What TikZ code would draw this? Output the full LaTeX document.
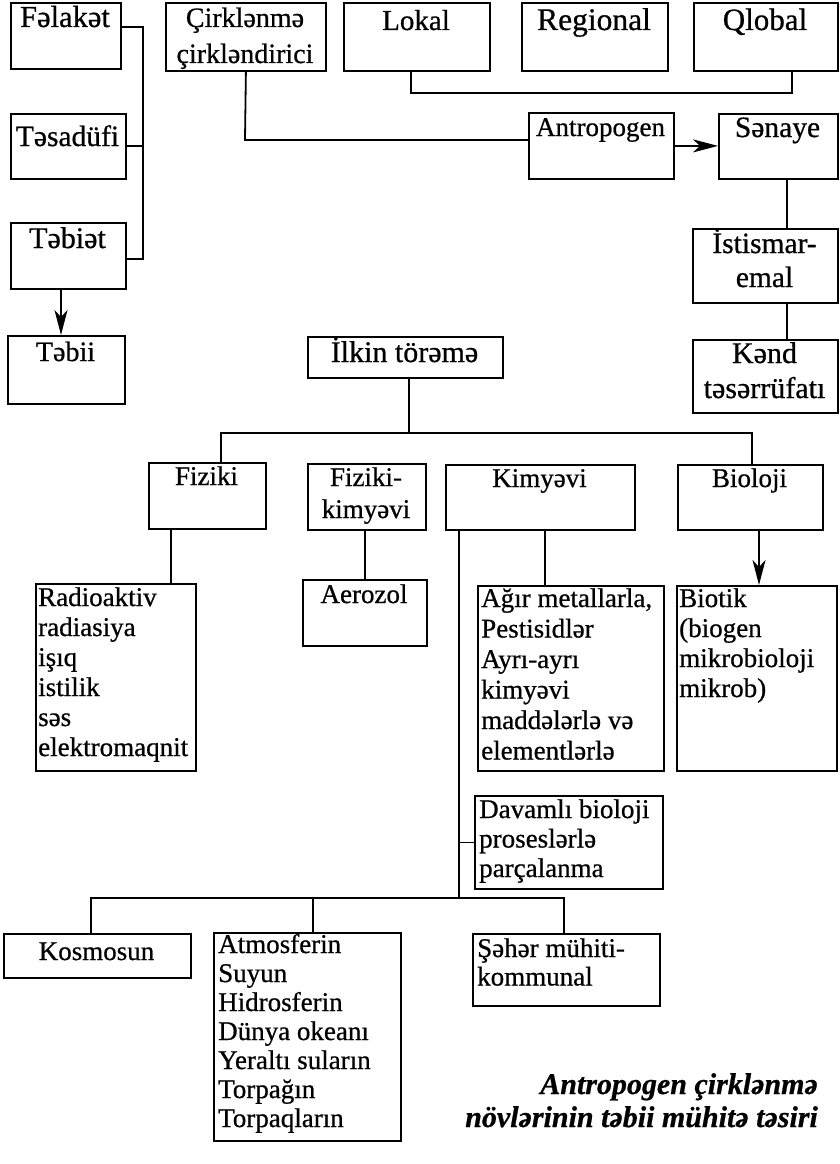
\documentclass[tikz,border=0pt]{standalone}
\usepackage{fontspec}
\setmainfont{Liberation Serif}[FakeBold=0.7]
\usetikzlibrary{arrows.meta}
% rows of text whose baseline is the first row
\newcommand{\txtrows}[2]{\begin{tabular}[t]{@{}#1@{}}#2\end{tabular}}
% framed box: name, left, top, width, height
\newcommand{\boxat}[5]{\node[bx, minimum width=#4pt, minimum height=#5pt] (#1) at (#2,#3) {};}
\newcommand{\fs}[2]{\fontsize{#1}{#2}\selectfont}
\begin{document}
\begin{tikzpicture}[x=1pt,y=-1pt,
  bx/.style={draw, line width=1.8pt, rectangle, inner sep=0pt, anchor=north west},
  ln/.style={line width=1.8pt},
  arr/.style={line width=1.8pt, -{Stealth[length=25pt,width=13pt,inset=7pt]}},
  hd/.style={inner sep=0pt, anchor=base},
  ls/.style={inner sep=0pt, anchor=base west, font=\fs{27}{30}},
]
\useasboundingbox (0,0) rectangle (840,1164);

% ---------- top part ----------
\boxat{falaket}{10}{2}{110}{66}
\node[hd, font=\fs{30.5}{35}] (falaket-t) at (65,27) {Fəlakət};
\boxat{tesadufi}{10}{113}{115}{65}
\node[hd, font=\fs{29.5}{35}] (tesadufi-t) at (67.5,146) {Təsadüfi};
\boxat{tebiet}{10}{222}{115}{66}
\node[hd, font=\fs{30}{35}] (tebiet-t) at (67.5,248) {Təbiət};
\boxat{tebii}{7}{335}{117}{68}
\node[hd, font=\fs{28}{35}] (tebii-t) at (65.5,361) {Təbii};

\boxat{cirk}{165}{2}{160}{68}
\node[hd, font=\fs{28}{36}] (cirk-t) at (245,27) {\txtrows{c}{Çirklənmə\\çirkləndirici}};
\boxat{lokal}{343}{2}{146}{68}
\node[hd, font=\fs{29}{35}] (lokal-t) at (416,30) {Lokal};
\boxat{regional}{521}{2}{146}{68}
\node[hd, font=\fs{31.5}{35}] (regional-t) at (594,30) {Regional};
\boxat{qlobal}{693}{2}{144}{68}
\node[hd, font=\fs{31}{35}] (qlobal-t) at (765,30) {Qlobal};

\boxat{antro}{528}{112}{145}{66}
\node[hd, font=\fs{27}{35}] (antro-t) at (600.5,136) {Antropogen};
\boxat{senaye}{718}{113}{119}{65}
\node[hd, font=\fs{29.5}{35}] (senaye-t) at (777.5,137) {Sənaye};
\boxat{istis}{692}{228}{145}{74}
\node[hd, font=\fs{29.5}{34}] (istis-t) at (764.5,253) {\txtrows{c}{İstismar-\\emal}};
\boxat{kend}{692}{339}{145}{73}
\node[hd, font=\fs{30}{35}] (kend-t) at (764.5,363) {\txtrows{c}{Kənd\\təsərrüfatı}};

% connectors of the top part
\coordinate (b1) at (143,27);
\coordinate (b2) at (143,146);
\coordinate (b3) at (143,259);
\draw[ln] (b1 -| falaket.east) -- (b1) -- (b3) -- (b3 -| tebiet.east);
\draw[ln] (b2 -| tesadufi.east) -- (b2);
\coordinate (ta) at (61,300);
\draw[arr] (ta |- tebiet.south) -- (ta |- tebii.north);

\coordinate (c1) at (245,140);
\draw[ln] (cirk.south) -- (c1) -- (c1 -| antro.west);
\coordinate (q1) at (411,93);
\coordinate (q2) at (792,93);
\draw[ln] (q1 |- lokal.south) -- (q1) -- (q2) -- (q2 |- qlobal.south);
\draw[arr] (antro.east) -- (antro.east -| senaye.west);
\coordinate (sx) at (787,200);
\draw[ln] (sx |- senaye.south) -- (sx |- istis.north);
\draw[ln] (sx |- istis.south) -- (sx |- kend.north);

% ---------- middle part ----------
\boxat{ilkin}{307}{336}{195}{41}
\node[hd, font=\fs{30}{35}] (ilkin-t) at (404.5,362) {İlkin törəmə};
\boxat{fiziki}{148}{462}{117}{66}
\node[hd, font=\fs{27}{32}] (fiziki-t) at (206.5,485) {Fiziki};
\boxat{fizkim}{307}{463}{118}{66}
\node[hd, font=\fs{27}{32}] (fizkim-t) at (366,486) {\txtrows{c}{Fiziki-\\kimyəvi}};
\boxat{kimyevi}{445}{464}{189}{65}
\node[hd, font=\fs{27}{32}] (kimyevi-t) at (539.5,487) {Kimyəvi};
\boxat{bioloji}{677}{464}{145}{65}
\node[hd, font=\fs{27}{32}] (bioloji-t) at (749.5,487) {Bioloji};

\coordinate (h0) at (409,433);
\coordinate (hL) at (221,433);
\coordinate (hR) at (752,433);
\draw[ln] (h0 |- ilkin.south) -- (h0);
\draw[ln] (hL |- fiziki.north) -- (hL) -- (hR) -- (hR |- bioloji.north);

\boxat{radio}{35}{583}{160}{187}
\node[ls] (radio-t) at (38,606) {\txtrows{l}{Radioaktiv\\radiasiya\\işıq\\istilik\\səs\\elektromaqnit}};
\boxat{aerozol}{302}{579}{124}{66}
\node[hd, font=\fs{27}{32}] (aerozol-t) at (364,603) {Aerozol};
\boxat{agir}{477}{585}{186}{185}
\node[ls, font=\fs{27}{30.5}] (agir-t) at (481,607) {\txtrows{l}{Ağır metallarla,\\Pestisidlər\\Ayrı-ayrı\\kimyəvi\\maddələrlə və\\elementlərlə}};
\boxat{biotik}{676}{585}{160}{185}
\node[ls] (biotik-t) at (679,607) {\txtrows{l}{Biotik\\(biogen\\mikrobioloji\\mikrob)}};

\coordinate (fx) at (171,560);
\draw[ln] (fx |- fiziki.south) -- (fx |- radio.north);
\draw[ln] (fizkim.south -| aerozol.north) -- (aerozol.north);
\coordinate (kx) at (545,560);
\draw[ln] (kx |- kimyevi.south) -- (kx |- agir.north);
\coordinate (bx) at (759,560);
\draw[arr] (bx |- bioloji.south) -- (bx |- biotik.north);

\boxat{davamli}{474}{795}{188}{93}
\node[ls, font=\fs{27}{29.5}] (davamli-t) at (479,818) {\txtrows{l}{Davamlı bioloji\\proseslərlə\\parçalanma}};

% ---------- bottom part ----------
\boxat{kosmos}{3}{933}{187}{44}
\node[hd, font=\fs{27}{32}] (kosmos-t) at (96.5,960) {Kosmosun};
\boxat{atmos}{213}{932}{187}{208}
\node[ls, font=\fs{27}{29}] (atmos-t) at (218,953) {\txtrows{l}{Atmosferin\\Suyun\\Hidrosferin\\Dünya okeanı\\Yeraltı suların\\Torpağın\\Torpaqların}};
\boxat{seher}{472}{933}{187}{72}
\node[ls, font=\fs{27}{28.5}] (seher-t) at (477,957) {\txtrows{l}{Şəhər mühiti-\\kommunal}};

\coordinate (kv) at (459,898);
\coordinate (bL) at (91,898);
\coordinate (bM) at (313,898);
\coordinate (bR) at (564,898);
\draw[ln] (kv |- kimyevi.south) -- (kv);
\draw[ln] (kv |- davamli.west) -- (davamli.west);
\draw[ln] (bL |- kosmos.north) -- (bL) -- (bR) -- (bR |- seher.north);
\draw[ln] (bM) -- (bM |- atmos.north);

% caption
\node[inner sep=0pt, anchor=base east, font=\fs{30}{33}\bfseries\itshape] (caption) at (818,1094)
  {\txtrows{r}{Antropogen çirklənmə\\növlərinin təbii mühitə təsiri}};
\end{tikzpicture}
\end{document}
